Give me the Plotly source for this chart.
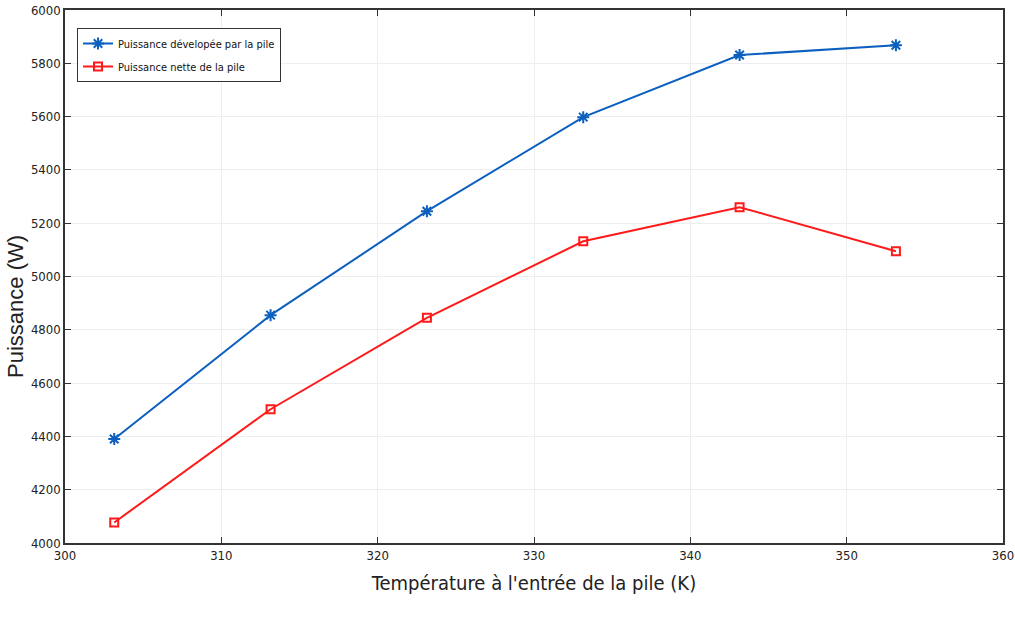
import plotly.graph_objects as go

temperature = [303.15, 313.15, 323.15, 333.15, 343.15, 353.15]
p_developpee = [4390, 4855, 5245, 5598, 5831, 5868]
p_nette = [4077, 4502, 4845, 5132, 5260, 5095]

x_ticks = [300, 310, 320, 330, 340, 350, 360]
y_ticks = [4000, 4200, 4400, 4600, 4800, 5000, 5200, 5400, 5600, 5800, 6000]

x_title = "Température à l'entrée de la pile (K)"
y_title = "Puissance (W)"

narrow = "DejaVu Sans Condensed, Liberation Sans Narrow, Arial Narrow, sans-serif"

fig = go.Figure()
fig.add_trace(go.Scatter(
    x=temperature, y=p_developpee, mode="lines+markers",
    name="Puissance dévelopée par la pile", legendgroup="a",
    line=dict(color="#0B5FBF", width=2),
    marker=dict(symbol="asterisk-open", size=10, color="#0B5FBF", line=dict(width=2, color="#0B5FBF")),
))
fig.add_trace(go.Scatter(
    x=temperature, y=p_nette, mode="lines+markers",
    name="Puissance nette de la pile", legendgroup="b",
    line=dict(color="#FF1A1A", width=2),
    marker=dict(symbol="square-open", size=8, color="#FF1A1A", line=dict(width=2, color="#FF1A1A")),
))

axis_common = dict(
    showline=True, linecolor="#333333", linewidth=1.5, mirror="ticks",
    ticks="inside", ticklen=6, tickcolor="#333333",
    showgrid=True, gridcolor="#EEEEEE", gridwidth=1, zeroline=False,
    tickfont=dict(family=narrow, size=13, color="#222222"),
    automargin=False,
)

fig.update_xaxes(
    range=[300, 360], tickvals=x_ticks, ticktext=[str(v) for v in x_ticks],
    title=dict(text=x_title,
               font=dict(family=narrow, size=20, color="#222222"), standoff=14),
    **axis_common,
)
fig.update_yaxes(
    range=[4000, 6000], tickvals=y_ticks, ticktext=[str(v) for v in y_ticks],
    **axis_common,
)

fig.add_annotation(
    text=y_title, textangle=-90, showarrow=False,
    xref="paper", yref="paper", x=(15 - 65) / 937, y=(543 - 306) / 533,
    xanchor="center", yanchor="middle",
    font=dict(family="Liberation Sans, Arial", size=22, color="#222222"),
)

fig.update_layout(
    width=1015, height=617,
    margin=dict(l=65, r=12, t=10, b=74, autoexpand=False),
    paper_bgcolor="white", plot_bgcolor="white",
    showlegend=True,
    legend=dict(
        x=12 / 937, y=(543 - 28) / 533, xanchor="left", yanchor="top",
        bgcolor="white", bordercolor="#333333", borderwidth=1,
        font=dict(family=narrow, size=11, color="#111111"),
        tracegroupgap=4, itemwidth=30,
    ),
)

fig.write_html("out.html", config={"displayModeBar": False},
               post_script="document.body.style.margin='0';")
